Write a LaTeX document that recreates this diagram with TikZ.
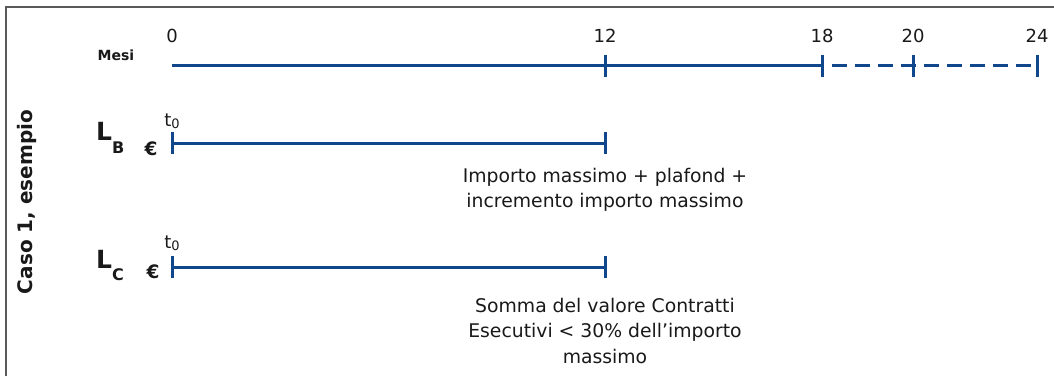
\documentclass[tikz,border=0pt]{standalone}
\usepackage{fontspec}
\setmainfont{DejaVu Sans}
\definecolor{barblue}{RGB}{16,70,140}
\definecolor{inkgray}{RGB}{25,25,25}
\definecolor{framegray}{RGB}{90,90,90}
\newcommand{\tzero}{t\raisebox{-2pt}{\fontsize{13}{13}\selectfont 0}}
\begin{document}
\begin{tikzpicture}[
      x=1pt, y=-1pt,
      bar/.style={draw=barblue, line width=3pt},
      tickmark/.style={draw=barblue, line width=3pt},
      every node/.style={inner sep=0pt, text=inkgray},
      txt/.style={font=\fontsize{18.8}{25.5}\selectfont, align=center},
      num/.style={font=\fontsize{18}{18}\selectfont, anchor=base},
      lab/.style={font=\bfseries\fontsize{25}{25}\selectfont, anchor=base west},
      euro/.style={font=\bfseries\fontsize{18.5}{18.5}\selectfont, anchor=base},
      tlab/.style={font=\fontsize{18}{18}\selectfont, anchor=base}
      ]
      \useasboundingbox (0,0) rectangle (1054,376);
      \draw[framegray, line width=1.5pt] (6,376) -- (6,7) -- (1054,7);

      % titolo laterale
      \node[font=\bfseries\fontsize{20}{20}\selectfont, rotate=90] (caso) at (27,202) {Caso 1, esempio};

      % asse dei mesi
      \node[font=\bfseries\fontsize{14}{14}\selectfont, anchor=base] (mesi) at (116,60) {Mesi};
      \coordinate (m0) at (172,65.5);
      \node[num] (lab0) at (172,42) {0};
      \foreach \m/\px in {12/605, 18/822, 20/913, 24/1037} {
        \coordinate (m\m) at (\px,65.5);
        \node[num] (lab\m) at (\px,42) {\m};
        \draw[tickmark] ([yshift=11pt]m\m) -- ([yshift=-11pt]m\m);
      }
      \draw[bar] (m0) -- (m18);
      \draw[bar, dash pattern=on 15pt off 8pt, dash phase=-10pt] (m18) -- (m24);

      % riga L_B
      \node[lab] (lb) at (96,140) {L\raisebox{-13pt}{\fontsize{16}{16}\selectfont B}};
      \node[euro] (eurob) at (151,155) {€};
      \node[tlab] (tb) at (172,126) {\tzero};
      \coordinate (b0) at (172,143);
      \coordinate (b12) at (605,143);
      \draw[bar] (b0) -- (b12);
      \draw[tickmark] ([yshift=11pt]b0) -- ([yshift=-11pt]b0);
      \draw[tickmark] ([yshift=11pt]b12) -- ([yshift=-11pt]b12);
      \node[txt, anchor=north] (notab) at (605,168) {Importo massimo + plafond +\\incremento importo massimo};

      % riga L_C
      \node[lab] (lc) at (96,268) {L\raisebox{-12pt}{\fontsize{16}{16}\selectfont C}};
      \node[euro] (euroc) at (153,278) {€};
      \node[tlab] (tc) at (172,248) {\tzero};
      \coordinate (c0) at (172,267);
      \coordinate (c12) at (605,267);
      \draw[bar] (c0) -- (c12);
      \draw[tickmark] ([yshift=11pt]c0) -- ([yshift=-11pt]c0);
      \draw[tickmark] ([yshift=11pt]c12) -- ([yshift=-11pt]c12);
      \node[txt, anchor=north] (notac) at (605,298) {Somma del valore Contratti\\Esecutivi < 30\% dell’importo\\massimo};
    \end{tikzpicture}
\end{document}
